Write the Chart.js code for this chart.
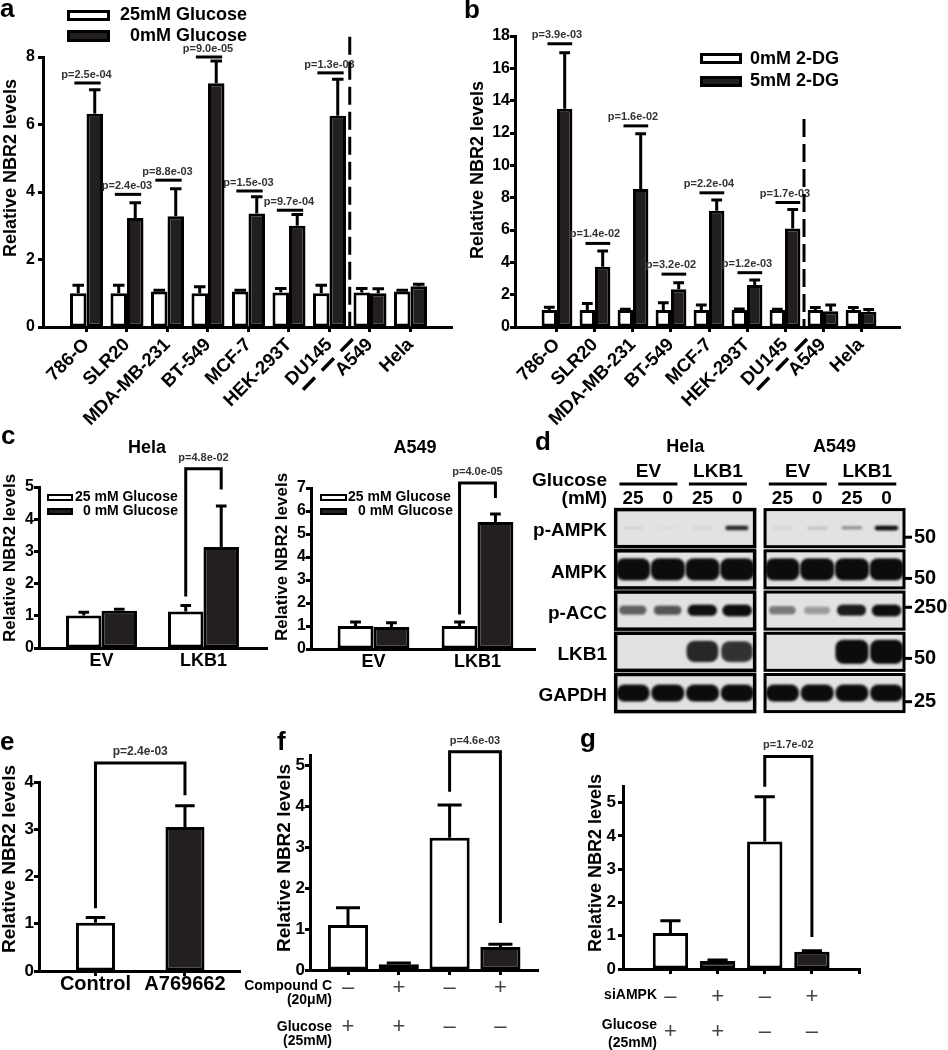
<!DOCTYPE html>
<html>
<head>
<meta charset="utf-8">
<title>NBR2 figure</title>
<script src="https://cdn.jsdelivr.net/npm/chart.js@4.4.1/dist/chart.umd.min.js"></script>
<style>
  body { margin: 0; background: #fff; }
  #fig { position: relative; width: 948px; height: 1050px; }
  #fig canvas { position: absolute; left: 0; top: 0; }
</style>
</head>
<body>
<div id="fig">
  <canvas id="panelA" width="948" height="1050"></canvas>
  <canvas id="panelB" width="948" height="1050"></canvas>
  <canvas id="panelC1" width="948" height="1050"></canvas>
  <canvas id="panelC2" width="948" height="1050"></canvas>
  <canvas id="panelD" width="948" height="1050"></canvas>
  <canvas id="panelE" width="948" height="1050"></canvas>
  <canvas id="panelF" width="948" height="1050"></canvas>
  <canvas id="panelG" width="948" height="1050"></canvas>
  <canvas id="letters" width="948" height="1050"></canvas>
</div>
<script>
// ---- data ----
const cellLines = ['786-O', 'SLR20', 'MDA-MB-231', 'BT-549', 'MCF-7', 'HEK-293T', 'DU145', 'A549', 'Hela'];

// a: 25mM vs 0mM glucose
const aGlucose25 = [1.0, 1.0, 1.05, 1.0, 1.05, 1.02, 1.0, 1.02, 1.05];
const aGlucose25Err = [0.24, 0.24, 0.04, 0.19, 0.04, 0.12, 0.24, 0.12, 0.04];
const aGlucose0 = [6.32, 3.23, 3.28, 7.22, 3.36, 3.0, 6.26, 1.0, 1.21];
const aGlucose0Err = [0.71, 0.45, 0.82, 0.66, 0.5, 0.33, 1.08, 0.13, 0.06];
const aPvalues = ['p=2.5e-04', 'p=2.4e-03', 'p=8.8e-03', 'p=9.0e-05', 'p=1.5e-03', 'p=9.7e-04', 'p=1.3e-03'];
const aSigLevels = [7.23, 3.93, 4.35, 8.0, 4.03, 3.46, 7.53];
const aTicks = [0, 2, 4, 6, 8];

// b: 0mM vs 5mM 2-DG
const bDG0 = [1.05, 1.05, 1.05, 1.05, 1.05, 1.05, 1.05, 1.05, 1.05];
const bDG0Err = [0.17, 0.41, 0.05, 0.45, 0.31, 0.06, 0.05, 0.16, 0.16];
const bDG5 = [13.5, 3.73, 8.53, 2.33, 7.19, 2.6, 6.1, 0.98, 0.95];
const bDG5Err = [3.47, 0.97, 3.43, 0.41, 0.66, 0.3, 1.17, 0.38, 0.14];
const bPvalues = ['p=3.9e-03', 'p=1.4e-02', 'p=1.6e-02', 'p=3.2e-02', 'p=2.2e-04', 'p=1.2e-03', 'p=1.7e-03'];
const bSigLevels = [17.52, 5.17, 12.44, 3.27, 8.3, 3.36, 7.7];
const bTicks = [0, 2, 4, 6, 8, 10, 12, 14, 16, 18];

// c: EV vs LKB1
const cGroups = ['EV', 'LKB1'];
const cHela25 = [1.01, 1.13];
const cHela25Err = [0.1, 0.19];
const cHela0 = [1.16, 3.14];
const cHela0Err = [0.04, 1.27];
const cA549_25 = [1.0, 1.0];
const cA549_25Err = [0.17, 0.17];
const cA549_0 = [0.96, 5.52];
const cA549_0Err = [0.18, 0.35];
const cHelaTicks = [0, 1, 2, 3, 4, 5];
const cA549Ticks = [0, 1, 2, 3, 4, 5, 6, 7];

// d: western blot band intensities (0..1), lanes 25/0 EV, 25/0 LKB1
const blotRows = ['p-AMPK', 'AMPK', 'p-ACC', 'LKB1', 'GAPDH'];
const blotMarkers = ['50', '50', '250', '50', '25'];
const blotMarkerRows = [0.22, 1.22, 1.92, 3.16, 4.21];
const blotGlucose = ['25', '0', '25', '0'];
const blotHela = [
  [0.08, 0.03, 0.06, 0.8],
  [1, 1, 1, 1],
  [0.55, 0.6, 0.9, 0.95],
  [0, 0, 0.8, 0.75],
  [1, 1, 1, 1]
];
const blotA549 = [
  [0.06, 0.15, 0.35, 0.9],
  [1, 1, 1, 1],
  [0.45, 0.3, 0.85, 0.95],
  [0, 0, 1, 1],
  [1, 1, 1, 1]
];

// e: A769662
const eLabels = ['Control', 'A769662'];
const eValues = [1.02, 3.05];
const eErr = [0.11, 0.45];
const eTicks = [0, 1, 2, 3, 4];

// f: compound C
const fValues = [1.1, 0.14, 3.23, 0.56];
const fErr = [0.42, 0.03, 0.8, 0.07];
const fCompoundC = [0, 1, 0, 1];
const fGlucose = [1, 1, 0, 0];

// g: siAMPK
const gValues = [1.08, 0.24, 3.83, 0.52];
const gErr = [0.37, 0.03, 1.35, 0.03];
const gSiAMPK = [0, 1, 0, 1];
const gGlucose = [1, 1, 0, 0];
const fgTicks = [0, 1, 2, 3, 4, 5];

// ---- drawing helpers ----
const FONT = '"Liberation Sans", Arial, Helvetica, sans-serif';
const INK = '#000';
const DARK = '#231f20';
const W = 948, H = 1050;
Chart.defaults.font.family = FONT;
Chart.defaults.color = INK;

const bold = s => 'bold ' + s + 'px ' + FONT;

function label(ctx, s, x, y, font, align, color, rot) {
  ctx.save();
  ctx.font = font;
  ctx.fillStyle = color || INK;
  ctx.textAlign = align || 'center';
  ctx.textBaseline = 'middle';
  ctx.translate(x, y);
  if (rot) ctx.rotate(rot);
  ctx.fillText(s, 0, 0);
  ctx.restore();
}

function extras(o) {
  return {
    id: 'extras',
    afterDatasetsDraw(chart) {
      const ctx = chart.ctx, ys = chart.scales.y;
      ctx.save();
      ctx.strokeStyle = INK;
      ctx.lineWidth = 3;
      chart.data.datasets.forEach((d, di) => {
        chart.getDatasetMeta(di).data.forEach((bar, i) => {
          const e = d.errors[i];
          if (!e) return;
          const top = ys.getPixelForValue(d.data[i].y + e);
          const half = bar.width * o.cap / 2;
          ctx.beginPath();
          ctx.moveTo(bar.x, bar.y);
          ctx.lineTo(bar.x, top);
          ctx.moveTo(bar.x - half, top);
          ctx.lineTo(bar.x + half, top);
          ctx.stroke();
        });
      });
      ctx.restore();
    },
    afterDraw(chart) {
      const ctx = chart.ctx, xs = chart.scales.x, ys = chart.scales.y;
      const t = o.yTitle;
      label(ctx, t.text, t.x, t.y, bold(t.size), 'center', INK, -Math.PI / 2);
      if (o.title) label(ctx, o.title.text, o.title.x, o.title.y, bold(o.title.size));

      ctx.save();
      ctx.strokeStyle = INK;
      ctx.lineWidth = 3;
      ctx.lineJoin = 'miter';

      if (o.legend) {
        const L = o.legend;
        L.items.forEach(it => {
          const [bx, by, bw, bh] = it.box;
          ctx.lineWidth = L.lw;
          ctx.fillStyle = it.fill;
          ctx.fillRect(bx, by, bw, bh);
          ctx.strokeRect(bx + L.lw / 2, by + L.lw / 2, bw - L.lw, bh - L.lw);
          label(ctx, it.text, it.tx, it.ty, bold(L.size), 'left');
        });
        ctx.lineWidth = 3;
      }

      if (o.sig) {
        const s = o.sig;
        s.levels.forEach((lv, i) => {
          const yy = ys.getPixelForValue(lv);
          ctx.beginPath();
          ctx.moveTo(xs.getPixelForValue(i + s.span[0]), yy);
          ctx.lineTo(xs.getPixelForValue(i + s.span[1]), yy);
          ctx.stroke();
          label(ctx, s.p[i], xs.getPixelForValue(i), yy - s.lift, bold(11), 'center', '#333');
        });
      }

      if (o.divider) {
        const x = xs.getPixelForValue(o.divider.x), y0 = ys.getPixelForValue(0);
        ctx.setLineDash([18, 7]);
        ctx.beginPath();
        ctx.moveTo(x, ys.getPixelForValue(o.divider.top));
        ctx.lineTo(x, y0);
        ctx.stroke();
        ctx.lineWidth = 3.5;
        ctx.setLineDash([17, 10]);
        ctx.beginPath();
        ctx.moveTo(x + 3, y0 + 12);
        ctx.lineTo(x - 50, y0 + 66);
        ctx.stroke();
        ctx.setLineDash([]);
        ctx.lineWidth = 3;
      }

      (o.brackets || []).forEach(b => {
        const pa = chart.getDatasetMeta(b.a[0]).data[b.a[1]];
        const pb = chart.getDatasetMeta(b.b[0]).data[b.b[1]];
        const top = ys.getPixelForValue(b.top);
        ctx.beginPath();
        ctx.moveTo(pa.x, ys.getPixelForValue(b.lowA));
        ctx.lineTo(pa.x, top);
        ctx.lineTo(pb.x, top);
        ctx.lineTo(pb.x, ys.getPixelForValue(b.lowB));
        ctx.stroke();
        label(ctx, b.p, (pa.x + pb.x) / 2, top - 11, bold(b.size || 11), 'center', '#333');
      });

      (o.rows || []).forEach(r => {
        r.lines.forEach((s, k) => label(ctx, s, o.rowLabelX, r.ly[k], bold(14), 'right'));
        r.marks.forEach((m, i) => label(ctx, m ? '+' : '\u2013', xs.getPixelForValue(i), r.sy, '22px ' + FONT, 'center', '#444'));
      });
      ctx.restore();
    }
  };
}

function barChart(id, o) {
  const yW = 30, xH = o.xH || 40;
  const a = o.area;
  const datasets = o.series.map(s => ({
    data: s.values.map((v, i) => ({ x: i, y: v })),
    errors: s.errors,
    backgroundColor: s.fill,
    borderColor: INK,
    borderWidth: 3,
    borderSkipped: false,
    categoryPercentage: o.catPct,
    barPercentage: 1
  }));
  return new Chart(document.getElementById(id), {
    type: 'bar',
    data: { datasets },
    options: {
      responsive: false,
      animation: false,
      events: [],
      layout: { padding: { left: a.l - yW, right: W - a.r, top: a.t, bottom: H - a.b - xH } },
      plugins: { legend: { display: false }, tooltip: { enabled: false } },
      scales: {
        x: {
          type: 'linear',
          min: o.xMin,
          max: o.xMax,
          offset: false,
          afterBuildTicks: s => { s.ticks = o.xTicks.map(v => ({ value: v })); },
          afterFit: s => { s.height = xH; s.paddingLeft = 0; s.paddingRight = 0; },
          grid: { offset: false, drawOnChartArea: false, drawTicks: o.xTickMarks, tickLength: 5, tickWidth: 3, tickColor: INK },
          border: { color: INK, width: 3 },
          ticks: {
            autoSkip: false,
            minRotation: o.xRot || 0,
            maxRotation: o.xRot || 0,
            padding: o.xPad,
            color: INK,
            font: { family: FONT, weight: 'bold', size: o.xSize },
            callback: v => (o.labels[v] || '')
          }
        },
        y: {
          type: 'linear',
          min: 0,
          max: o.yMax,
          afterBuildTicks: s => { s.ticks = o.yTicks.map(v => ({ value: v })); },
          afterFit: s => { s.width = yW; s.paddingTop = 0; s.paddingBottom = 0; },
          grid: { drawOnChartArea: false, tickLength: 5, tickWidth: 3, tickColor: INK },
          border: { color: INK, width: 3 },
          ticks: { padding: o.yPad, color: INK, font: { family: FONT, weight: 'bold', size: o.ySize } }
        }
      }
    },
    plugins: [extras(o)]
  });
}

const idx = arr => arr.map((_, i) => i);

// ---- panel a ----
barChart('panelA', {
  area: { l: 43, r: 452, t: 57, b: 327 },
  xMin: -1.074, xMax: 9.025, xTicks: idx(cellLines), labels: cellLines,
  xRot: 45, xSize: 18.5, xPad: 2, xTickMarks: true, xH: 110,
  yMax: 8, yTicks: aTicks, ySize: 16, yPad: 3,
  catPct: 0.815, cap: 0.7,
  series: [
    { values: aGlucose25, errors: aGlucose25Err, fill: '#fff' },
    { values: aGlucose0, errors: aGlucose0Err, fill: DARK }
  ],
  yTitle: { text: 'Relative NBR2 levels', x: 11, y: 168, size: 18 },
  legend: { lw: 3, size: 18, items: [
    { fill: '#fff', box: [67, 10, 43, 11], text: '25mM Glucose', tx: 120, ty: 15 },
    { fill: DARK, box: [67, 30, 43, 12], text: '0mM Glucose', tx: 130, ty: 36 }
  ] },
  sig: { levels: aSigLevels, p: aPvalues, span: [-0.3, 0.35], lift: 8 },
  divider: { x: 6.5, top: 8.6 }
});

// ---- panel b ----
barChart('panelB', {
  area: { l: 515, r: 900, t: 36, b: 327 },
  xMin: -1.105, xMax: 9.026, xTicks: idx(cellLines), labels: cellLines,
  xRot: 45, xSize: 18.5, xPad: 2, xTickMarks: true, xH: 110,
  yMax: 18, yTicks: bTicks, ySize: 16, yPad: 0,
  catPct: 0.81, cap: 0.7,
  series: [
    { values: bDG0, errors: bDG0Err, fill: '#fff' },
    { values: bDG5, errors: bDG5Err, fill: DARK }
  ],
  yTitle: { text: 'Relative NBR2 levels', x: 478, y: 170, size: 18 },
  legend: { lw: 3, size: 18, items: [
    { fill: '#fff', box: [700, 53, 42, 11], text: '0mM 2-DG', tx: 750, ty: 59 },
    { fill: DARK, box: [700, 76, 42, 11], text: '5mM 2-DG', tx: 750, ty: 81 }
  ] },
  sig: { levels: bSigLevels, p: bPvalues, span: [-0.25, 0.4], lift: 9 },
  divider: { x: 6.5, top: 12.86 }
});

// ---- panel c ----
barChart('panelC1', {
  area: { l: 39, r: 267, t: 487, b: 648 },
  xMin: -0.613, xMax: 1.623, xTicks: idx(cGroups), labels: cGroups,
  xRot: 0, xSize: 18, xPad: 2, xTickMarks: false,
  yMax: 5, yTicks: cHelaTicks, ySize: 16, yPad: 0,
  catPct: 0.696, cap: 0.3,
  series: [
    { values: cHela25, errors: cHela25Err, fill: '#fff' },
    { values: cHela0, errors: cHela0Err, fill: DARK }
  ],
  title: { text: 'Hela', x: 147, y: 448, size: 18 },
  yTitle: { text: 'Relative NBR2 levels', x: 10, y: 558, size: 17 },
  legend: { lw: 2, size: 14, items: [
    { fill: '#fff', box: [47, 494, 26, 7], text: '25 mM Glucose', tx: 75, ty: 497 },
    { fill: DARK, box: [47, 508, 26, 7], text: '0 mM Glucose', tx: 83, ty: 511 }
  ] },
  brackets: [{ a: [0, 1], b: [1, 1], top: 5.57, lowA: 1.6, lowB: 4.92, p: 'p=4.8e-02' }]
});

barChart('panelC2', {
  area: { l: 311, r: 535, t: 488, b: 649 },
  xMin: -0.601, xMax: 1.553, xTicks: idx(cGroups), labels: cGroups,
  xRot: 0, xSize: 18, xPad: 2, xTickMarks: false,
  yMax: 7, yTicks: cA549Ticks, ySize: 16, yPad: 0,
  catPct: 0.69, cap: 0.3,
  series: [
    { values: cA549_25, errors: cA549_25Err, fill: '#fff' },
    { values: cA549_0, errors: cA549_0Err, fill: DARK }
  ],
  title: { text: 'A549', x: 415, y: 448, size: 18 },
  yTitle: { text: 'Relative NBR2 levels', x: 282, y: 557, size: 17 },
  legend: { lw: 2, size: 14, items: [
    { fill: '#fff', box: [320, 494, 27, 7], text: '25 mM Glucose', tx: 348, ty: 497 },
    { fill: DARK, box: [320, 508, 27, 7], text: '0 mM Glucose', tx: 358, ty: 511 }
  ] },
  brackets: [{ a: [0, 1], b: [1, 1], top: 7.22, lowA: 1.5, lowB: 6.57, p: 'p=4.0e-05' }]
});

// ---- panel e ----
barChart('panelE', {
  area: { l: 39, r: 240, t: 782, b: 971 },
  xMin: -0.631, xMax: 1.615, xTicks: idx(eLabels), labels: eLabels,
  xRot: 0, xSize: 20, xPad: -4, xTickMarks: true,
  yMax: 4, yTicks: eTicks, ySize: 17, yPad: 0,
  catPct: 0.436, cap: 0.5,
  series: [{ values: eValues, errors: eErr, fill: ['#fff', DARK] }],
  yTitle: { text: 'Relative NBR2 levels', x: 10, y: 859, size: 19 },
  brackets: [{ a: [0, 0], b: [0, 1], top: 4.4, lowA: 1.33, lowB: 3.72, p: 'p=2.4e-03', size: 12 }]
});

// ---- panel f ----
barChart('panelF', {
  area: { l: 310, r: 538, t: 755, b: 970 },
  xMin: -0.748, xMax: 3.74, xTicks: idx(fValues), labels: [],
  xRot: 0, xSize: 12, xPad: 0, xTickMarks: true,
  yMax: 5.25, yTicks: fgTicks, ySize: 17, yPad: 0,
  catPct: 0.79, cap: 0.6,
  series: [{ values: fValues, errors: fErr, fill: ['#fff', DARK, '#fff', DARK] }],
  yTitle: { text: 'Relative NBR2 levels', x: 285, y: 858, size: 19 },
  brackets: [{ a: [0, 2], b: [0, 3], top: 5.33, lowA: 4.35, lowB: 1.15, p: 'p=4.6e-03' }],
  rowLabelX: 332,
  rows: [
    { lines: ['Compound C', '(20\u03bcM)'], ly: [986, 1000], sy: 988, marks: fCompoundC },
    { lines: ['Glucose', '(25mM)'], ly: [1027, 1041], sy: 1027, marks: fGlucose }
  ]
});

// ---- panel g ----
barChart('panelG', {
  area: { l: 623, r: 860, t: 786, b: 969 },
  xMin: -1.006, xMax: 4.02, xTicks: [0, 1, 2, 3, 4], labels: [],
  xRot: 0, xSize: 12, xPad: 0, xTickMarks: true,
  yMax: 5.5, yTicks: fgTicks, ySize: 17, yPad: 2,
  catPct: 0.75, cap: 0.57,
  series: [{ values: gValues, errors: gErr, fill: ['#fff', DARK, '#fff', DARK] }],
  yTitle: { text: 'Relative NBR2 levels', x: 596, y: 863, size: 18 },
  brackets: [{ a: [0, 2], b: [0, 3], top: 6.39, lowA: 5.48, lowB: 0.96, p: 'p=1.7e-02' }],
  rowLabelX: 657,
  rows: [
    { lines: ['siAMPK'], ly: [995], sy: 997, marks: gSiAMPK },
    { lines: ['Glucose', '(25mM)'], ly: [1025, 1043], sy: 1032, marks: gGlucose }
  ]
});

// ---- panel d: blot drawn as a scatter of band images ----
const blotShift = 4.3;
const bandW = [24, 34, 30, 33, 33];
const bandH = [5, 22, 12, 24, 17];
const bandCache = {};
function bandImage(r, v) {
  const key = r + ':' + v;
  if (bandCache[key]) return bandCache[key];
  const w = bandW[r] * (0.8 + 0.2 * v);
  const h = Math.max(2.5, bandH[r] * (0.45 + 0.55 * v));
  const c = document.createElement('canvas');
  c.width = Math.ceil(w + 10);
  c.height = Math.ceil(h + 10);
  const g = c.getContext('2d');
  g.filter = 'blur(1.1px)';
  g.fillStyle = 'rgba(12,12,12,' + Math.min(1, v * 1.1) + ')';
  g.beginPath();
  g.roundRect(5, 5, w, h, Math.min(h / 2, 8));
  g.fill();
  bandCache[key] = c;
  return c;
}

const bands = [];
[blotHela, blotA549].forEach((set, b) => set.forEach((row, r) => row.forEach((v, l) => {
  if (v > 0) bands.push({ x: l + b * blotShift, y: r, v, r });
})));

const blotPlugin = {
  id: 'blot',
  beforeDatasetsDraw(chart) {
    const ctx = chart.ctx, xs = chart.scales.x, ys = chart.scales.y;
    ctx.save();
    ctx.fillStyle = '#e2e2e2';
    [0, 1].forEach(b => blotRows.forEach((_, r) => {
      const x1 = xs.getPixelForValue(b * blotShift - 0.5), x2 = xs.getPixelForValue(b * blotShift + 3.5);
      const y1 = ys.getPixelForValue(r - 0.45), y2 = ys.getPixelForValue(r + 0.45);
      ctx.fillRect(x1, y1, x2 - x1, y2 - y1);
    }));
    ctx.restore();
  },
  afterDraw(chart) {
    const ctx = chart.ctx, xs = chart.scales.x, ys = chart.scales.y;
    ctx.save();
    ctx.strokeStyle = INK;
    ctx.lineWidth = 3.5;
    [0, 1].forEach(b => {
      blotRows.forEach((_, r) => {
        const x1 = xs.getPixelForValue(b * blotShift - 0.5), x2 = xs.getPixelForValue(b * blotShift + 3.5);
        const y1 = ys.getPixelForValue(r - 0.45), y2 = ys.getPixelForValue(r + 0.45);
        ctx.strokeRect(x1, y1, x2 - x1, y2 - y1);
      });
      label(ctx, b ? 'A549' : 'Hela', xs.getPixelForValue(b * blotShift + 1.5), 447, bold(18));
      ['EV', 'LKB1'].forEach((s, k) => {
        const cx = xs.getPixelForValue(b * blotShift + k * 2 + 0.5) - 2;
        label(ctx, s, cx, 472, bold(19));
        ctx.lineWidth = 3;
        ctx.beginPath();
        ctx.moveTo(cx - 29, 484);
        ctx.lineTo(cx + 29, 484);
        ctx.stroke();
      });
      blotGlucose.forEach((s, l) => label(ctx, s, xs.getPixelForValue(b * blotShift + l), 499, bold(19)));
    });
    label(ctx, 'Glucose', 607, 481, bold(19), 'right');
    label(ctx, '(mM)', 607, 499, bold(19), 'right');
    blotRows.forEach((s, r) => label(ctx, s, 607, ys.getPixelForValue(r) + 3, bold(19), 'right'));
    ctx.lineWidth = 3;
    blotMarkers.forEach((s, r) => {
      const y = ys.getPixelForValue(blotMarkerRows[r]);
      ctx.beginPath();
      ctx.moveTo(905, y);
      ctx.lineTo(912, y);
      ctx.stroke();
      label(ctx, s, 914, y, bold(20), 'left');
    });
    ctx.restore();
  }
};

new Chart(document.getElementById('panelD'), {
  type: 'scatter',
  data: {
    datasets: [{
      data: bands,
      pointRadius: 1,
      pointStyle: c => (c.raw ? bandImage(c.raw.r, c.raw.v) : 'circle')
    }]
  },
  options: {
    responsive: false,
    animation: false,
    events: [],
    layout: { padding: { left: 615, right: W - 904, top: 510, bottom: H - 712 } },
    plugins: { legend: { display: false }, tooltip: { enabled: false } },
    scales: {
      x: { type: 'linear', display: false, min: -0.52, max: 7.8 },
      y: { type: 'linear', display: false, min: -0.44, max: 4.46, reverse: true }
    }
  },
  plugins: [blotPlugin]
});

// ---- panel letters ----
const panelLetters = [['a', 0, 17], ['b', 464, 18], ['c', 1, 444], ['d', 535, 450], ['e', 0, 750], ['f', 277, 750], ['g', 580, 747]];
const lc = document.getElementById('letters').getContext('2d');
lc.font = bold(26);
lc.fillStyle = INK;
panelLetters.forEach(([s, x, y]) => lc.fillText(s, x, y));
</script>
</body>
</html>
